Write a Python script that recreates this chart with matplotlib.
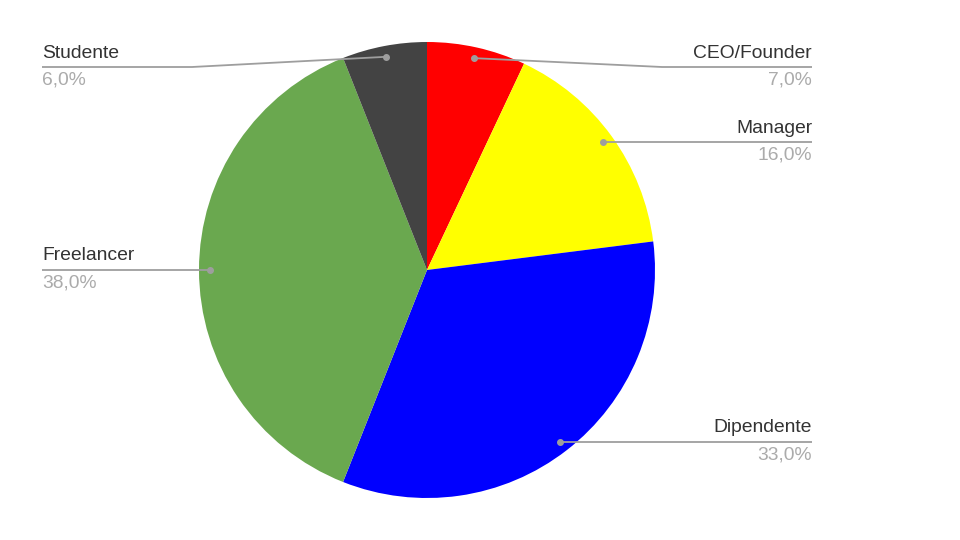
import numpy as np
import matplotlib
matplotlib.use("Agg")
import matplotlib.pyplot as plt

labels = ["CEO/Founder", "Manager", "Dipendente", "Freelancer", "Studente"]
values = [7.0, 16.0, 33.0, 38.0, 6.0]
colors = ["#ff0000", "#ffff00", "#0000ff", "#6aa84f", "#434343"]

plt.rcParams['font.family'] = ['Liberation Sans', 'DejaVu Sans']

W, H = 960, 540
fig = plt.figure(figsize=(9.6, 5.4), dpi=100)
ax = fig.add_axes([0, 0, 1, 1])
ax.set_xlim(0, W)
ax.set_ylim(0, H)
ax.set_aspect('equal')
ax.axis('off')

cx, cy = 427, H - 270
R = 228
wedges, _ = ax.pie(values, colors=colors, startangle=90, counterclock=False,
                   center=(cx, cy), radius=R, frame=True,
                   wedgeprops=dict(linewidth=0))
ax.set_xlim(0, W)
ax.set_ylim(0, H)
ax.axis('off')

layout = {
    "CEO/Founder": ("right", 67),
    "Manager": ("right", None),
    "Dipendente": ("right", None),
    "Freelancer": ("left", None),
    "Studente": ("left", 67),
}
left_x, right_x = 42, 812
seg = 150
total = sum(values)
for w, lab, val in zip(wedges, labels, values):
    ang = np.deg2rad((w.theta1 + w.theta2) / 2)
    dx = cx + 0.952 * R * np.cos(ang)
    dy = cy + 0.952 * R * np.sin(ang)
    side, ly = layout[lab]
    line_y = dy if ly is None else H - ly
    if side == "right":
        end = right_x
        elbow = max(dx, end - seg)
        ha, tx = "right", right_x
    else:
        end = left_x
        elbow = min(dx, end + seg)
        ha, tx = "left", left_x
    ax.plot([dx, elbow, end], [dy, line_y, line_y], color="#9e9e9e", lw=1.3,
            solid_capstyle='butt', zorder=3)
    ax.plot([dx], [dy], 'o', color="#9e9e9e", ms=4, zorder=4)
    ax.text(tx, line_y + 14, lab, ha=ha, va="center", fontsize=13.9, color="#333333")
    ax.text(tx, line_y - 13, f"{val/total*100:.1f}%".replace(".", ","), ha=ha,
            va="center", fontsize=13.9, color="#ababab")

fig.savefig("out.png", dpi=100, facecolor="white")
